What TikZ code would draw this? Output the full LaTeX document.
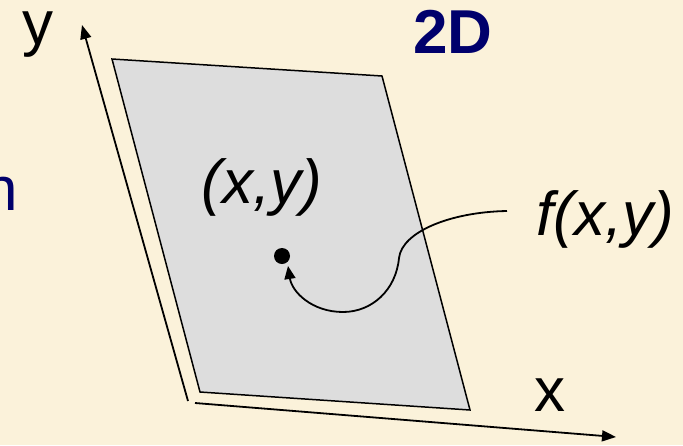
\documentclass[tikz,border=0pt]{standalone}
\usepackage{fontspec}
\setmainfont{Liberation Sans}
\usetikzlibrary{arrows.meta}
\definecolor{parch}{RGB}{251,242,218}
\definecolor{panel}{RGB}{221,221,221}
\definecolor{navy}{RGB}{0,0,108}
\tikzset{
  axis/.style={line width=1.8pt,-{Triangle[length=14pt,width=11pt]}},
  lbl/.style={inner sep=0pt,font=\fontsize{62}{70}\selectfont},
  ilbl/.style={lbl,font=\fontsize{62}{70}\selectfont\itshape},
  blbl/.style={inner sep=0pt,font=\fontsize{62}{70}\selectfont\bfseries,text=navy}
}
\begin{document}
\begin{tikzpicture}[x=1pt,y=-1pt]
\useasboundingbox (0,0) rectangle (683,445);
\clip (0,0) rectangle (683,445);
\fill[parch] (0,0) rectangle (683,445);
% plane
\node[coordinate] (tl) at (112,59) {};
\node[coordinate] (tr) at (382,76) {};
\node[coordinate] (br) at (470,410) {};
\node[coordinate] (bl) at (200,392) {};
\draw[fill=panel,line width=1.5pt,line join=miter] (tl) -- (tr) -- (br) -- (bl) -- cycle;
% axes
\coordinate (yo) at (188,401);
\coordinate (ye) at (82,25);
\coordinate (xo) at (195,403);
\coordinate (xe) at (616,437);
\draw[axis] (yo) -- (ye);
\draw[axis] (xo) -- (xe);
% labels
\node[lbl,anchor=base] (ylab) at (38,44) {y};
\node[lbl,anchor=base] (xlab) at (550,411) {x};
\node[blbl,anchor=base] (twod) at (453,53) {2D};
\node[lbl,anchor=base east,text=navy] (nlab) at (18,210) {n};
\node[ilbl,anchor=base] (pt) at (262,203) {(x,y)};
\node[ilbl,anchor=base] (fxy) at (605,235) {f(x,y)};
% dot and curve
\node[circle,fill=black,inner sep=0pt,minimum size=16pt] (dot) at (282,256) {};
\coordinate (cs) at (507,211);
\coordinate (ce) at (288,266);
\draw[line width=1.8pt,-{Triangle[length=13pt,width=11pt]}]
  (cs) .. controls (450,212) and (402,232) .. (399,258)
       .. controls (396,290) and (372,312) .. (343,312)
       .. controls (312,312) and (292,292) .. (ce);
\end{tikzpicture}
\end{document}
